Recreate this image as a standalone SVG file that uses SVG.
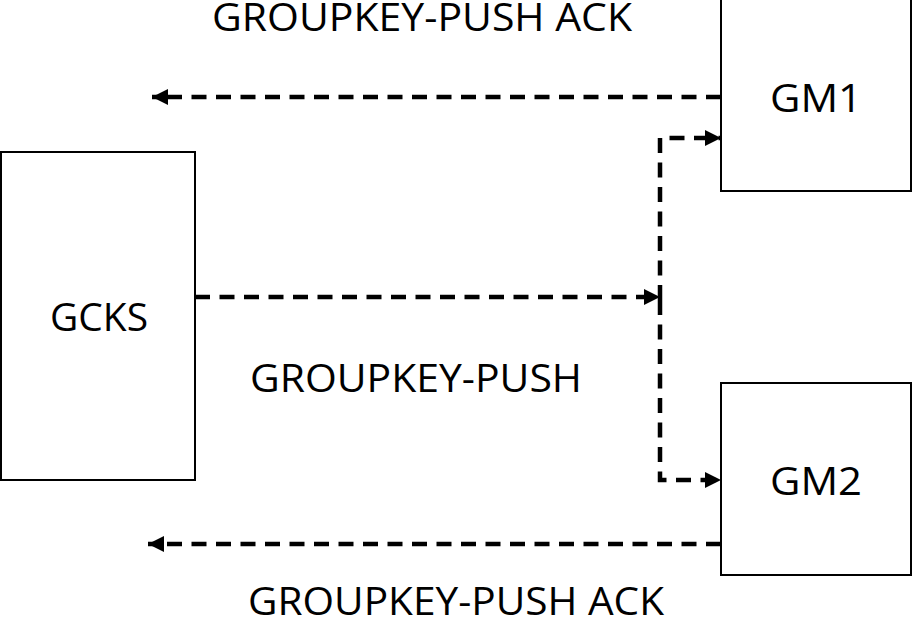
<svg xmlns="http://www.w3.org/2000/svg" width="914" height="625" viewBox="0 0 914 625">
<style>
.box{fill:#fff;stroke:#000;stroke-width:2}
.lbl{font-family:"Open Sans","Noto Sans","Liberation Sans",sans-serif;font-size:39px;fill:#000;text-anchor:middle}
.dash{fill:none;stroke:#000;stroke-width:4.5;stroke-dasharray:15 9.5}
</style>
<defs>
<marker id="ah" markerUnits="userSpaceOnUse" markerWidth="18" markerHeight="16" refX="16" refY="8" orient="auto">
<path d="M0,0 L16,8 L0,16 Z" fill="#000"/>
</marker>
</defs>
<rect width="914" height="625" fill="#fff"/>
<g id="gcks"><rect class="box" x="1" y="152" width="194" height="328"/><text class="lbl" x="99" y="331" textLength="98" lengthAdjust="spacingAndGlyphs">GCKS</text></g>
<g id="gm1"><rect class="box" x="721" y="-2" width="190" height="193"/><text class="lbl" x="816" y="112" textLength="92" lengthAdjust="spacingAndGlyphs">GM1</text></g>
<g id="gm2"><rect class="box" x="721" y="383" width="190" height="192"/><text class="lbl" x="816" y="495" textLength="92" lengthAdjust="spacingAndGlyphs">GM2</text></g>
<g id="connectors">
<path class="dash" d="M721,97 H152" marker-end="url(#ah)"/>
<path class="dash" d="M195,297 H660" marker-end="url(#ah)"/>
<path class="dash" d="M660,300 V138 H721" marker-end="url(#ah)"/>
<path class="dash" d="M660,300 V480 H721" marker-end="url(#ah)"/>
<path class="dash" d="M721,544 H148" marker-end="url(#ah)"/>
</g>
<g id="labels">
<text class="lbl" x="422" y="31" textLength="420" lengthAdjust="spacingAndGlyphs">GROUPKEY-PUSH ACK</text>
<text class="lbl" x="416" y="392" textLength="332" lengthAdjust="spacingAndGlyphs">GROUPKEY-PUSH</text>
<text class="lbl" x="456" y="615" textLength="416" lengthAdjust="spacingAndGlyphs">GROUPKEY-PUSH ACK</text>
</g>
</svg>
